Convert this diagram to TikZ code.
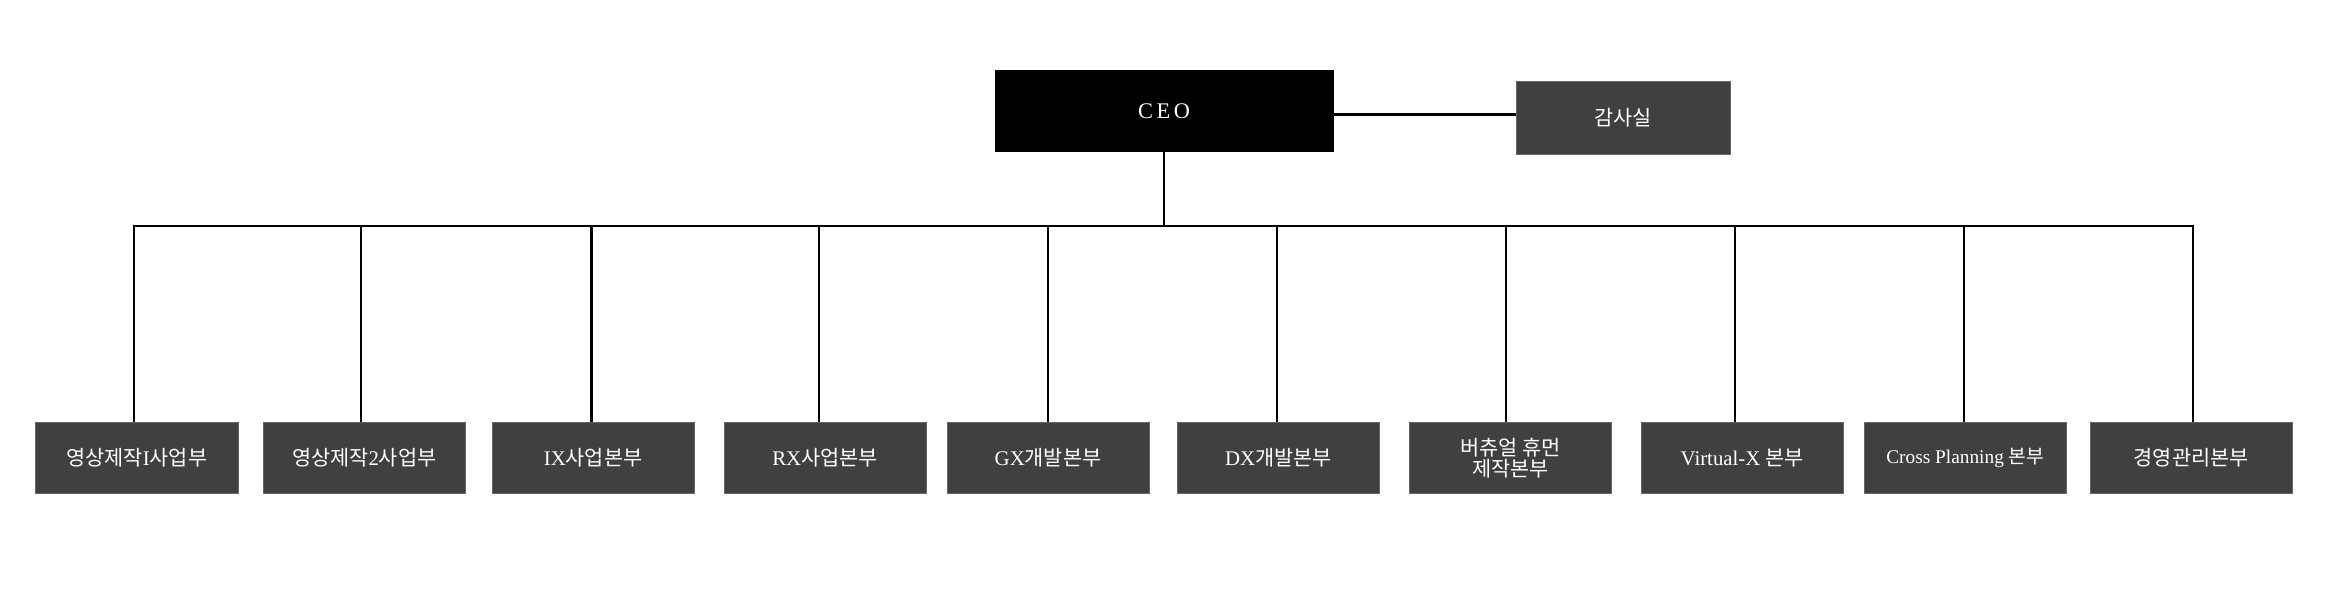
\documentclass[tikz,border=0pt]{standalone}
\usepackage{fontspec}
\setmainfont{Liberation Serif}
\newfontfamily\kr{Noto Sans CJK KR}
\usetikzlibrary{positioning}
\tikzset{
  unit/.style={fill=black!75, draw=black!60, text=white, minimum width=136pt,
    minimum height=48pt, inner sep=2pt, align=center, font=\fontsize{14}{16}\selectfont},
  link/.style={draw=black, line width=1.6pt},
}
\begin{document}
\begin{tikzpicture}[x=1pt,y=-1pt]
  \useasboundingbox (0,0) rectangle (1568,400);
  \node[fill=black, text=white, minimum width=228pt, minimum height=55pt,
    font=\fontsize{15}{16}\selectfont] (ceo) at (783,74.5) {C\,E\,O};
  \node[unit, minimum width=144pt, minimum height=49pt] (audit) at (1092,79.5) {\kr 감사실};
  \draw[link] (ceo.east |- 0,77) -- (audit.west |- 0,77);
  \coordinate (bus) at (783,152);
  % divisions
  \node[unit] (d1) at (92,308) {\kr 영상제작{\rmfamily I}사업부};
  \node[unit] (d2) at (245,308) {\kr 영상제작{\rmfamily 2}사업부};
  \node[unit] (d3) at (399,308) {{\rmfamily IX}\kr 사업본부};
  \node[unit] (d4) at (555,308) {{\rmfamily RX}\kr 사업본부};
  \node[unit] (d5) at (705,308) {{\rmfamily GX}\kr 개발본부};
  \node[unit] (d6) at (860,308) {{\rmfamily DX}\kr 개발본부};
  \node[unit] (d7) at (1016,308) {\kr 버츄얼 휴먼\\[-2pt]\kr 제작본부};
  \node[unit] (d8) at (1172,308) {Virtual-X {\kr 본부}};
  \node[unit, font=\fontsize{13}{16}\selectfont] (d9) at (1322,308) {Cross Planning {\kr 본부}};
  \node[unit] (d10) at (1474,308) {\kr 경영관리본부};
  \draw[link] (ceo.south) -- (bus);
  \draw[link] (d1.north -| 90,0) |- (bus) -| (d10.north -| 1475,0);
  \foreach \d/\x in {d2/243,d3/398,d4/551,d5/705,d6/859,d7/1013,d8/1167,d9/1321}
    \draw[link] (\d.north -| \x,0) -- (\x,152);
\end{tikzpicture}
\end{document}
